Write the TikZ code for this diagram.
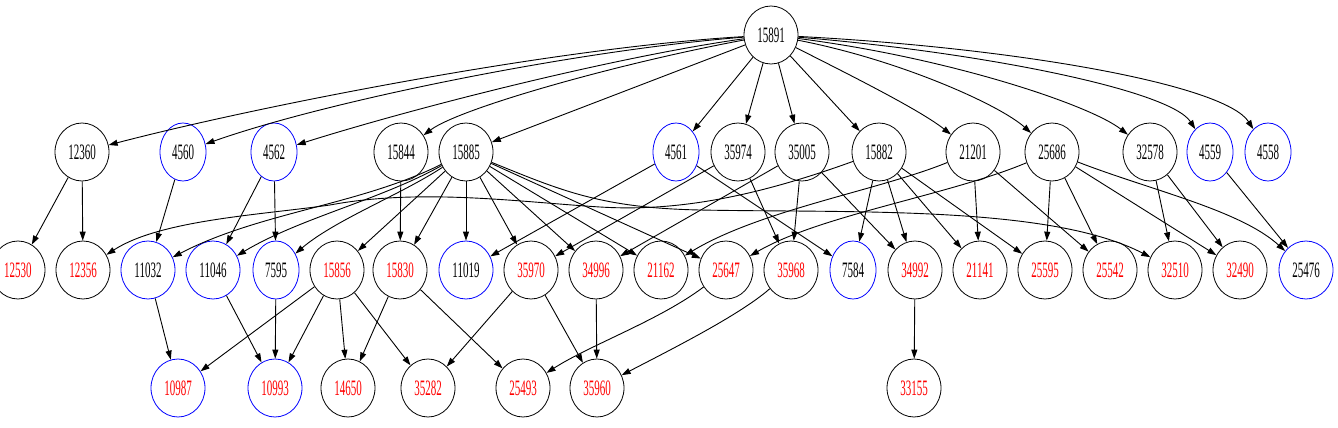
\documentclass[tikz,border=0pt]{standalone}
\usepackage{fontspec}
\setmainfont{Liberation Serif}
\usetikzlibrary{shapes.geometric,arrows.meta}
\definecolor{gvred}{RGB}{255,0,0}
\definecolor{gvblue}{RGB}{0,0,255}
\newcommand{\gvl}[1]{\scalebox{1}[2]{#1}}
\begin{document}
\begin{tikzpicture}[x=1pt,y=-1pt,
  gvnode/.style={ellipse, draw=black, line width=0.8pt, minimum width=54pt, minimum height=58pt, inner sep=0pt, font=\fontsize{11}{13}\selectfont},
  bl/.style={draw=gvblue},
  rt/.style={text=gvred},
  nw/.style={minimum width=46pt},
  gvedge/.style={-{Triangle[length=9pt,width=6pt]}, line width=0.9pt, black}]
\useasboundingbox (0,0) rectangle (1338,428);
% root
\node[gvnode] (n15891) at (771,35) {\gvl{15891}};
% row 1
\node[gvnode] (n12360) at (82,152) {\gvl{12360}};
\node[gvnode,bl,nw] (n4560) at (183,152) {\gvl{4560}};
\node[gvnode,bl,nw] (n4562) at (274,152) {\gvl{4562}};
\node[gvnode] (n15844) at (401,152) {\gvl{15844}};
\node[gvnode] (n15885) at (466,152) {\gvl{15885}};
\node[gvnode,bl,nw] (n4561) at (676,152) {\gvl{4561}};
\node[gvnode] (n35974) at (738,152) {\gvl{35974}};
\node[gvnode] (n35005) at (802,152) {\gvl{35005}};
\node[gvnode] (n15882) at (879,152) {\gvl{15882}};
\node[gvnode] (n21201) at (973,152) {\gvl{21201}};
\node[gvnode] (n25686) at (1052,152) {\gvl{25686}};
\node[gvnode] (n32578) at (1150,152) {\gvl{32578}};
\node[gvnode,bl,nw] (n4559) at (1210,152) {\gvl{4559}};
\node[gvnode,bl,nw] (n4558) at (1268,152) {\gvl{4558}};
% row 2
\node[gvnode,rt] (n12530) at (18,270) {\gvl{12530}};
\node[gvnode,rt] (n12356) at (83,270) {\gvl{12356}};
\node[gvnode,bl] (n11032) at (148,270) {\gvl{11032}};
\node[gvnode,bl] (n11046) at (213,270) {\gvl{11046}};
\node[gvnode,bl,nw] (n7595) at (276,270) {\gvl{7595}};
\node[gvnode,rt] (n15856) at (337,270) {\gvl{15856}};
\node[gvnode,rt] (n15830) at (400,270) {\gvl{15830}};
\node[gvnode,bl] (n11019) at (466,270) {\gvl{11019}};
\node[gvnode,rt] (n35970) at (531,270) {\gvl{35970}};
\node[gvnode,rt] (n34996) at (596,270) {\gvl{34996}};
\node[gvnode,rt] (n21162) at (661,270) {\gvl{21162}};
\node[gvnode,rt] (n25647) at (726,270) {\gvl{25647}};
\node[gvnode,rt] (n35968) at (791,270) {\gvl{35968}};
\node[gvnode,bl,nw] (n7584) at (853,270) {\gvl{7584}};
\node[gvnode,rt] (n34992) at (915,270) {\gvl{34992}};
\node[gvnode,rt] (n21141) at (980,270) {\gvl{21141}};
\node[gvnode,rt] (n25595) at (1045,270) {\gvl{25595}};
\node[gvnode,rt] (n25542) at (1110,270) {\gvl{25542}};
\node[gvnode,rt] (n32510) at (1175,270) {\gvl{32510}};
\node[gvnode,rt] (n32490) at (1240,270) {\gvl{32490}};
\node[gvnode,bl] (n25476) at (1306,270) {\gvl{25476}};
% row 3
\node[gvnode,bl,rt] (n10987) at (178,388) {\gvl{10987}};
\node[gvnode,bl,rt] (n10993) at (275,388) {\gvl{10993}};
\node[gvnode,rt] (n14650) at (348,388) {\gvl{14650}};
\node[gvnode,rt] (n35282) at (428,388) {\gvl{35282}};
\node[gvnode,rt] (n25493) at (523,388) {\gvl{25493}};
\node[gvnode,rt] (n35960) at (597,388) {\gvl{35960}};
\node[gvnode,rt] (n33155) at (914,388) {\gvl{33155}};
% root edges
\draw[gvedge] (n15891) .. controls (550,48) and (250,108) .. (n12360);
\draw[gvedge] (n15891) .. controls (580,50) and (330,100) .. (n4560);
\draw[gvedge] (n15891) .. controls (620,56) and (420,106) .. (n4562);
\draw[gvedge] (n15891) .. controls (620,63) and (460,108) .. (n15844);
\draw[gvedge] (n15891) -- (n15885);
\draw[gvedge] (n15891) -- (n4561);
\draw[gvedge] (n15891) -- (n35974);
\draw[gvedge] (n15891) -- (n35005);
\draw[gvedge] (n15891) -- (n15882);
\draw[gvedge] (n15891) .. controls (850,75) and (920,110) .. (n21201);
\draw[gvedge] (n15891) .. controls (900,60) and (1000,105) .. (n25686);
\draw[gvedge] (n15891) .. controls (950,58) and (1090,105) .. (n32578);
\draw[gvedge] (n15891) .. controls (980,52) and (1170,90) .. (n4559);
\draw[gvedge] (n15891) .. controls (1020,48) and (1225,85) .. (n4558);
% row 1 -> row 2
\draw[gvedge] (n12360) -- (n12530);
\draw[gvedge] (n12360) -- (n12356);
\draw[gvedge] (n4560) -- (n11032);
\draw[gvedge] (n4562) -- (n11046);
\draw[gvedge] (n4562) -- (n7595);
\draw[gvedge] (n15844) -- (n15830);
\draw[gvedge] (n15885) .. controls (360,205) and (260,212) .. (n11032);
\draw[gvedge] (n15885) .. controls (380,200) and (300,218) .. (n11046);
\draw[gvedge] (n15885) .. controls (400,195) and (335,220) .. (n7595);
\draw[gvedge] (n15885) -- (n15856);
\draw[gvedge] (n15885) -- (n15830);
\draw[gvedge] (n15885) -- (n11019);
\draw[gvedge] (n15885) -- (n35970);
\draw[gvedge] (n15885) -- (n34996);
\draw[gvedge] (n15885) -- (n21162);
\draw[gvedge] (n15885) -- (n25647);
\draw[gvedge] (n15885) .. controls (560,190) and (600,208) .. (700,210) .. controls (850,213) and (1050,205) .. (n32510);
\draw[gvedge] (n4561) -- (n11019);
\draw[gvedge] (n4561) -- (n7584);
\draw[gvedge] (n35974) -- (n35970);
\draw[gvedge] (n35974) -- (n35968);
\draw[gvedge] (n35005) -- (n34996);
\draw[gvedge] (n35005) -- (n35968);
\draw[gvedge] (n35005) -- (n34992);
\draw[gvedge] (n15882) .. controls (760,195) and (680,212) .. (600,207) .. controls (520,202) and (420,188) .. (330,205) .. controls (260,215) and (160,220) .. (n12356);
\draw[gvedge] (n15882) -- (n7584);
\draw[gvedge] (n15882) -- (n34992);
\draw[gvedge] (n15882) -- (n21141);
\draw[gvedge] (n15882) -- (n25595);
\draw[gvedge] (n21201) .. controls (880,190) and (760,210) .. (n21162);
\draw[gvedge] (n21201) -- (n21141);
\draw[gvedge] (n21201) -- (n25542);
\draw[gvedge] (n25686) .. controls (950,195) and (820,215) .. (n25647);
\draw[gvedge] (n25686) -- (n25595);
\draw[gvedge] (n25686) -- (n25542);
\draw[gvedge] (n25686) -- (n32490);
\draw[gvedge] (n25686) .. controls (1150,190) and (1240,210) .. (n25476);
\draw[gvedge] (n32578) -- (n32510);
\draw[gvedge] (n32578) -- (n32490);
\draw[gvedge] (n4559) -- (n25476);
% row 2 -> row 3
\draw[gvedge] (n11032) -- (n10987);
\draw[gvedge] (n15856) -- (n10987);
\draw[gvedge] (n15856) -- (n10993);
\draw[gvedge] (n15856) -- (n14650);
\draw[gvedge] (n15856) -- (n35282);
\draw[gvedge] (n11046) -- (n10993);
\draw[gvedge] (n7595) -- (n10993);
\draw[gvedge] (n15830) -- (n14650);
\draw[gvedge] (n15830) -- (n25493);
\draw[gvedge] (n35970) -- (n35282);
\draw[gvedge] (n35970) -- (n35960);
\draw[gvedge] (n34996) -- (n35960);
\draw[gvedge] (n25647) .. controls (660,320) and (590,345) .. (n25493);
\draw[gvedge] (n35968) .. controls (740,315) and (670,350) .. (n35960);
\draw[gvedge] (n34992) -- (n33155);
\end{tikzpicture}
\end{document}
